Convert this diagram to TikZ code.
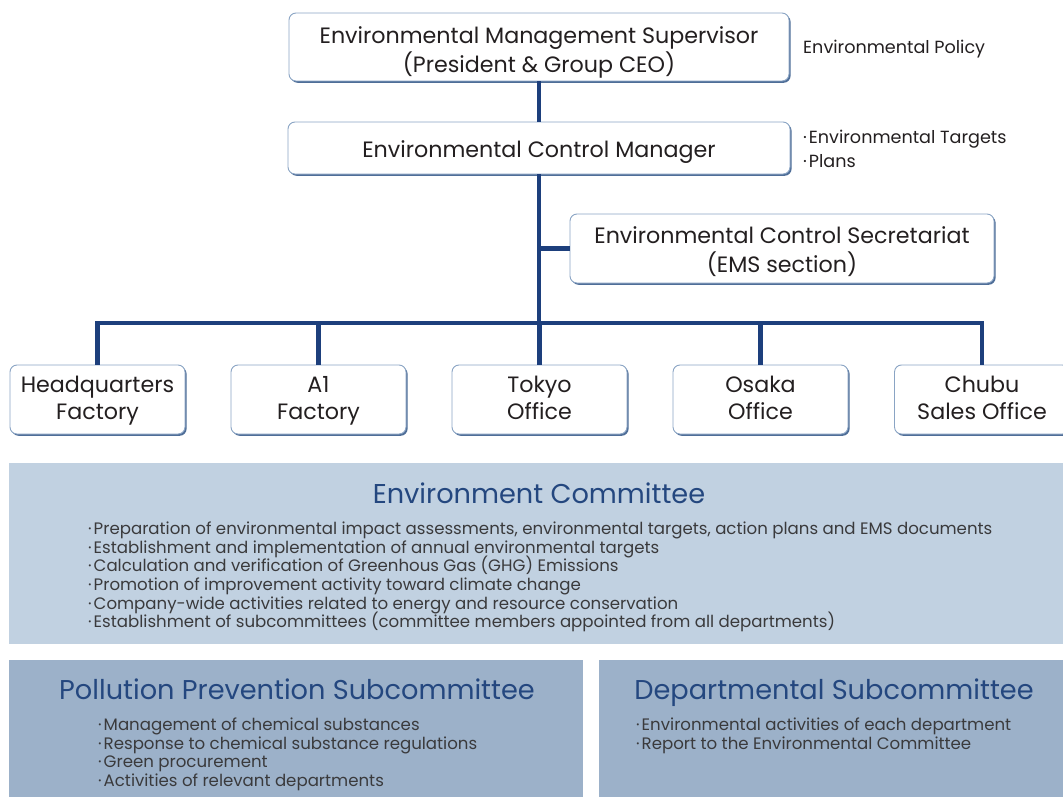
\documentclass[tikz,border=0pt]{standalone}
\usepackage{fontspec}
\setmainfont{Poppins}
\usetikzlibrary{shadows}
\definecolor{navy}{HTML}{1D3F7C}
\definecolor{bord}{HTML}{8AA4C4}
\definecolor{shad}{HTML}{4F6E98}
\definecolor{panelA}{HTML}{C1D1E1}
\definecolor{panelB}{HTML}{9CB1C9}
\definecolor{titlec}{HTML}{24477F}
\definecolor{txt}{HTML}{231F20}
\definecolor{btxt}{HTML}{3A3A3C}
\newcommand\lstr{\rule[-9pt]{0pt}{19pt}}
\newcommand\bul{·\hspace{2pt}}
\newcommand\nolsk{\lineskiplimit-30pt\relax}
\begin{document}
\begin{tikzpicture}[x=1pt,y=-1pt,
  box/.style={draw=bord, line width=0.9pt, fill=white, rounded corners=7pt,
    general shadow={shadow xshift=1.6pt, shadow yshift=-1.8pt, fill=shad}, inner sep=0pt},
  small/.style={box, minimum width=175pt, minimum height=69pt},
  btext/.style={align=center, text=txt, font={\fontsize{22.2}{29}\selectfont\nolsk}, inner sep=0pt},
  stext/.style={btext, font={\fontsize{22.2}{27}\selectfont\nolsk}},
  conn/.style={draw=navy, line width=4.5pt},
  lab/.style={anchor=west, align=left, text=txt, font={\fontsize{17.6}{23.5}\selectfont}, inner sep=0pt},
  panel/.style={anchor=north west, inner sep=0pt},
  ptitle/.style={anchor=base, text=titlec, font={\fontsize{27.2}{30}\selectfont}, inner sep=0pt},
  blist/.style={anchor=north west, align=left, text=btxt, font={\fontsize{16.6}{18.7}\selectfont\nolsk}, inner sep=0pt}]
\useasboundingbox (0,0) rectangle (1063,797);

% boxes
\node[box, minimum width=500pt, minimum height=68pt] (sup) at (539,47) {};
\node[btext] (supt) at (539,53.7) {\lstr Environmental Management Supervisor\\\lstr(President \& Group CEO)};
\node[box, minimum width=502pt, minimum height=52pt] (mgr) at (539,148) {};
\node[btext] (mgrt) at (539,153.8) {\lstr Environmental Control Manager};
\node[box, minimum width=424pt, minimum height=69pt] (sec) at (782,248.5) {};
\node[btext] (sect) at (782,254.3) {\lstr Environmental Control Secretariat\\\lstr(EMS section)};
\node[small] (hq) at (97.5,399.5) {};
\node[small] (a1) at (318.5,399.5) {};
\node[small] (tokyo) at (539.5,399.5) {};
\node[small] (osaka) at (760.5,399.5) {};
\node[small] (chubu) at (982,399.5) {};
\node[stext] (hqt) at (97.5,402.2) {\lstr Headquarters\\\lstr Factory};
\node[stext] (a1t) at (318.5,402.2) {\lstr A1\\\lstr Factory};
\node[stext] (tokyot) at (539.5,402.2) {\lstr Tokyo\\\lstr Office};
\node[stext] (osakat) at (760.5,402.2) {\lstr Osaka\\\lstr Office};
\node[stext] (chubut) at (982,402.2) {\lstr Chubu\\\lstr Sales Office};
\coordinate (bus) at (539,323);

% side labels
\node[lab] (pol) at (803,49) {Environmental Policy};
\node[lab] (tgt) at (803,149) {\bul Environmental Targets\\\bul Plans};

% connectors
\draw[conn] (sup.south) -- (mgr.north);
\draw[conn] (mgr.south) -- (bus);
\draw[conn] (mgr.south |- sec.west) -- (sec.west);
\draw[conn, line join=miter] (hq.north) -- (hq.north |- bus) -- (chubu.north |- bus) -- (chubu.north);
\foreach \n in {a1,tokyo,osaka} \draw[conn] (\n.north |- bus) -- (\n.north);

% panels
\node[panel, fill=panelA, minimum width=1054pt, minimum height=181pt] (com) at (9,463) {};
\node[ptitle] (comt) at (539,503) {Environment Committee};
\node[blist] (comb) at (88,521.5) {\bul Preparation of environmental impact assessments, environmental targets, action plans and EMS documents\\
\bul Establishment and implementation of annual environmental targets\\
\bul Calculation and verification of Greenhous Gas (GHG) Emissions\\
\bul Promotion of improvement activity toward climate change\\
\bul Company-wide activities related to energy and resource conservation\\
\bul Establishment of subcommittees (committee members appointed from all departments)};

\node[panel, fill=panelB, minimum width=574pt, minimum height=137pt] (pol2) at (9,660) {};
\node[ptitle] (polt) at (297,699.5) {Pollution Prevention Subcommittee};
\node[blist] (polb) at (98,717.5) {\bul Management of chemical substances\\
\bul Response to chemical substance regulations\\
\bul Green procurement\\
\bul Activities of relevant departments};

\node[panel, fill=panelB, minimum width=464pt, minimum height=137pt] (dep) at (599,660) {};
\node[ptitle] (dept) at (834,699.5) {Departmental Subcommittee};
\node[blist] (depb) at (636,717.5) {\bul Environmental activities of each department\\
\bul Report to the Environmental Committee};
\end{tikzpicture}
\end{document}
